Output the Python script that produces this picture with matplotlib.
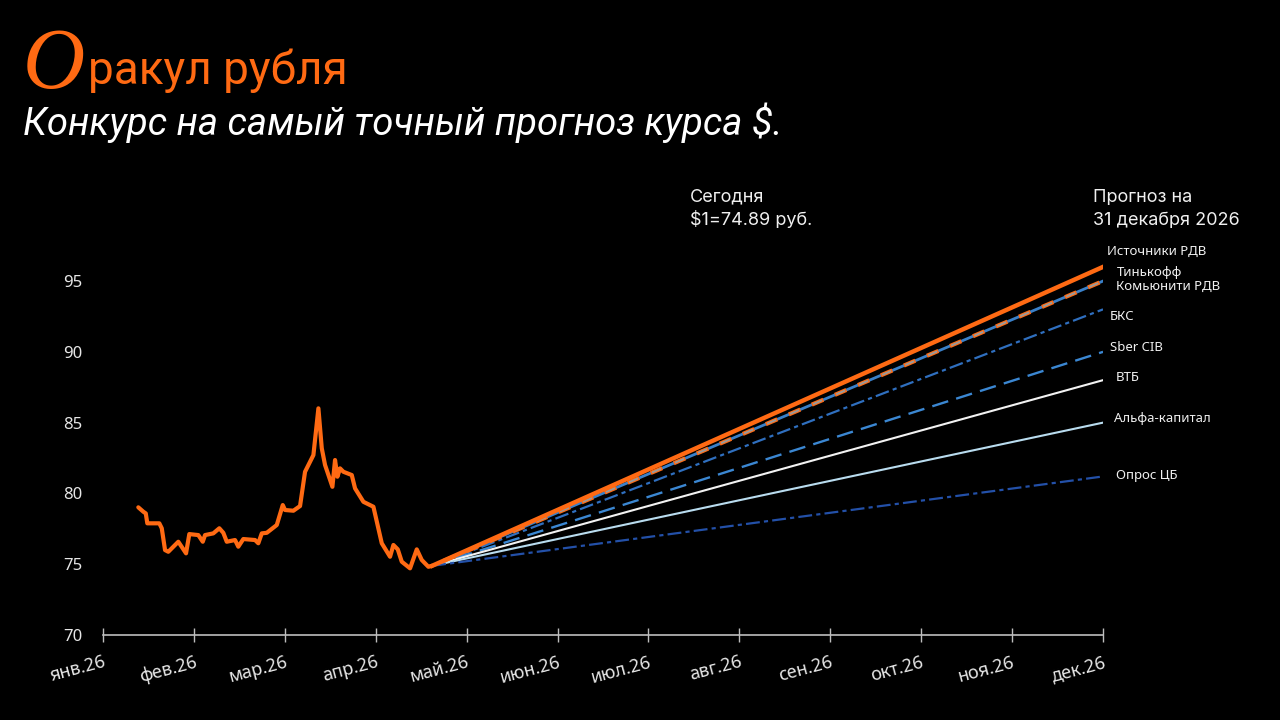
import matplotlib
matplotlib.use("Agg")
import matplotlib.pyplot as plt

plt.rcParams["lines.scale_dashes"] = False

# ------------------------------------
# history: position in months since 1 Jan 2026, rate RUB per USD
hist_month = [0.388, 0.443, 0.470, 0.487, 0.619, 0.646, 0.682, 0.718, 0.828, 0.913,
              0.949, 1.048, 1.097, 1.122, 1.213, 1.279, 1.323, 1.361, 1.452, 1.488,
              1.543, 1.672, 1.708, 1.746, 1.801, 1.911, 1.977, 2.002, 2.094, 2.167,
              2.222, 2.314, 2.369, 2.406, 2.442, 2.523, 2.552, 2.578, 2.607, 2.644,
              2.736, 2.772, 2.864, 2.974, 3.066, 3.157, 3.194, 3.242, 3.286, 3.377,
              3.451, 3.506, 3.579, 3.620]
hist_rate = [79.02, 78.71, 78.59, 77.89, 77.89, 77.54, 76.00, 75.88, 76.59, 75.77,
             77.13, 77.06, 76.59, 77.06, 77.18, 77.54, 77.22, 76.59, 76.71, 76.24,
             76.78, 76.71, 76.48, 77.18, 77.22, 77.77, 79.18, 78.83, 78.78, 79.11,
             81.53, 82.71, 86.01, 83.19, 82.01, 80.47, 82.36, 81.18, 81.77, 81.53,
             81.30, 80.36, 79.41, 79.06, 76.48, 75.53, 76.36, 76.05, 75.18, 74.71,
             76.05, 75.30, 74.82, 74.89]

today_rate = 74.89
forecast_end_month = 11
forecasters = ["Источники РДВ", "Тинькофф", "Комьюнити РДВ", "БКС", "Sber CIB",
               "ВТБ", "Альфа-капитал", "Опрос ЦБ"]
forecast_rate = [96.0, 95.0, 95.0, 93.0, 90.0, 88.0, 85.0, 81.2]

month_labels = ["янв.26", "фев.26", "мар.26", "апр.26", "май.26", "июн.26",
                "июл.26", "авг.26", "сен.26", "окт.26", "ноя.26", "дек.26"]
y_ticks = [70, 75, 80, 85, 90, 95]
# ------------------------------------

orange = "#ff6a13"
# each forecast may be drawn as several stacked strokes
styles = {
    "Источники РДВ": [dict(color=orange, lw=3.2, ls="-", zorder=6)],
    "Тинькофф": [dict(color=orange, lw=3.0, ls=(9, (9, 9)), zorder=5),
                 dict(color="#9a9a9a", lw=1.4, ls=(8, (7, 11)), zorder=5)],
    "Комьюнити РДВ": [dict(color="#3a80c8", lw=2.0, ls="-", zorder=4)],
    "БКС": [dict(color="#2f6fbf", lw=1.6, ls=(0, (10, 3, 3, 3)), zorder=3)],
    "Sber CIB": [dict(color="#3b87d2", lw=1.7, ls=(0, (12, 6)), zorder=3)],
    "ВТБ": [dict(color="#f2f2f2", lw=1.5, ls="-", zorder=3)],
    "Альфа-капитал": [dict(color="#b9dcef", lw=1.5, ls="-", zorder=3)],
    "Опрос ЦБ": [dict(color="#2350a8", lw=1.6, ls=(0, (10, 3, 3, 3)), zorder=3)],
}
# label offsets (points) from the end of each line
label_offset = {
    "Источники РДВ": (3, 11), "Тинькофф": (10, 6), "Комьюнити РДВ": (9, -4),
    "БКС": (5, -5), "Sber CIB": (5, 3), "ВТБ": (9, 2), "Альфа-капитал": (8, 3),
    "Опрос ЦБ": (9, 1),
}

fig = plt.figure(figsize=(12.8, 7.2), dpi=100, facecolor="black")
ax = fig.add_axes([0.0805, 0.118, 0.78125, 0.531], facecolor="black")

ax.plot(hist_month, hist_rate, color=orange, lw=3.0, zorder=7,
        solid_joinstyle="round", solid_capstyle="round")

for name, end in zip(forecasters, forecast_rate):
    for st in styles[name]:
        ax.plot([hist_month[-1], forecast_end_month], [today_rate, end],
                color=st["color"], lw=st["lw"], ls=st["ls"], zorder=st["zorder"])
    dx, dy = label_offset[name]
    ax.annotate(name, (forecast_end_month, end), xytext=(dx, dy),
                textcoords="offset points", fontsize=9.5, color="#f0f0f0",
                family="Noto Sans", va="center", ha="left", annotation_clip=False)

ax.set_xlim(0, 11)
ax.set_ylim(70, 97)
ax.set_xticks(range(len(month_labels)))
ax.set_xticklabels(month_labels, rotation=15, ha="right", rotation_mode="anchor",
                   fontsize=13, color="#e6e6e6", family="Noto Sans")
ax.set_yticks(y_ticks)
ax.set_yticklabels([str(v) for v in y_ticks], fontsize=12, color="#e6e6e6",
                   family="Noto Sans")
ax.tick_params(axis="y", length=0, pad=15)
ax.tick_params(axis="x", direction="inout", length=10, width=1, color="#bdbdbd", pad=8)
for s in ["left", "right", "top"]:
    ax.spines[s].set_visible(False)
ax.spines["bottom"].set_color("#bdbdbd")
ax.spines["bottom"].set_linewidth(1.2)

# header
fig.text(0.018, 0.878, "О", fontsize=62, color=orange, family="Liberation Serif",
         style="italic")
fig.text(0.069, 0.884, "ракул рубля", fontsize=33, color=orange, family="Roboto")
fig.text(0.018, 0.812, "Конкурс на самый точный прогноз курса $.", fontsize=27.5,
         color="white", family="Roboto", style="italic")

fig.text(0.539, 0.688, "Сегодня\n$1=74.89 руб.", fontsize=13, color="#f0f0f0",
         family="Inter", linespacing=1.4)
fig.text(0.854, 0.688, "Прогноз на\n31 декабря 2026", fontsize=13, color="#f0f0f0",
         family="Inter", linespacing=1.4)

fig.savefig("out.png", dpi=100, facecolor="black")
